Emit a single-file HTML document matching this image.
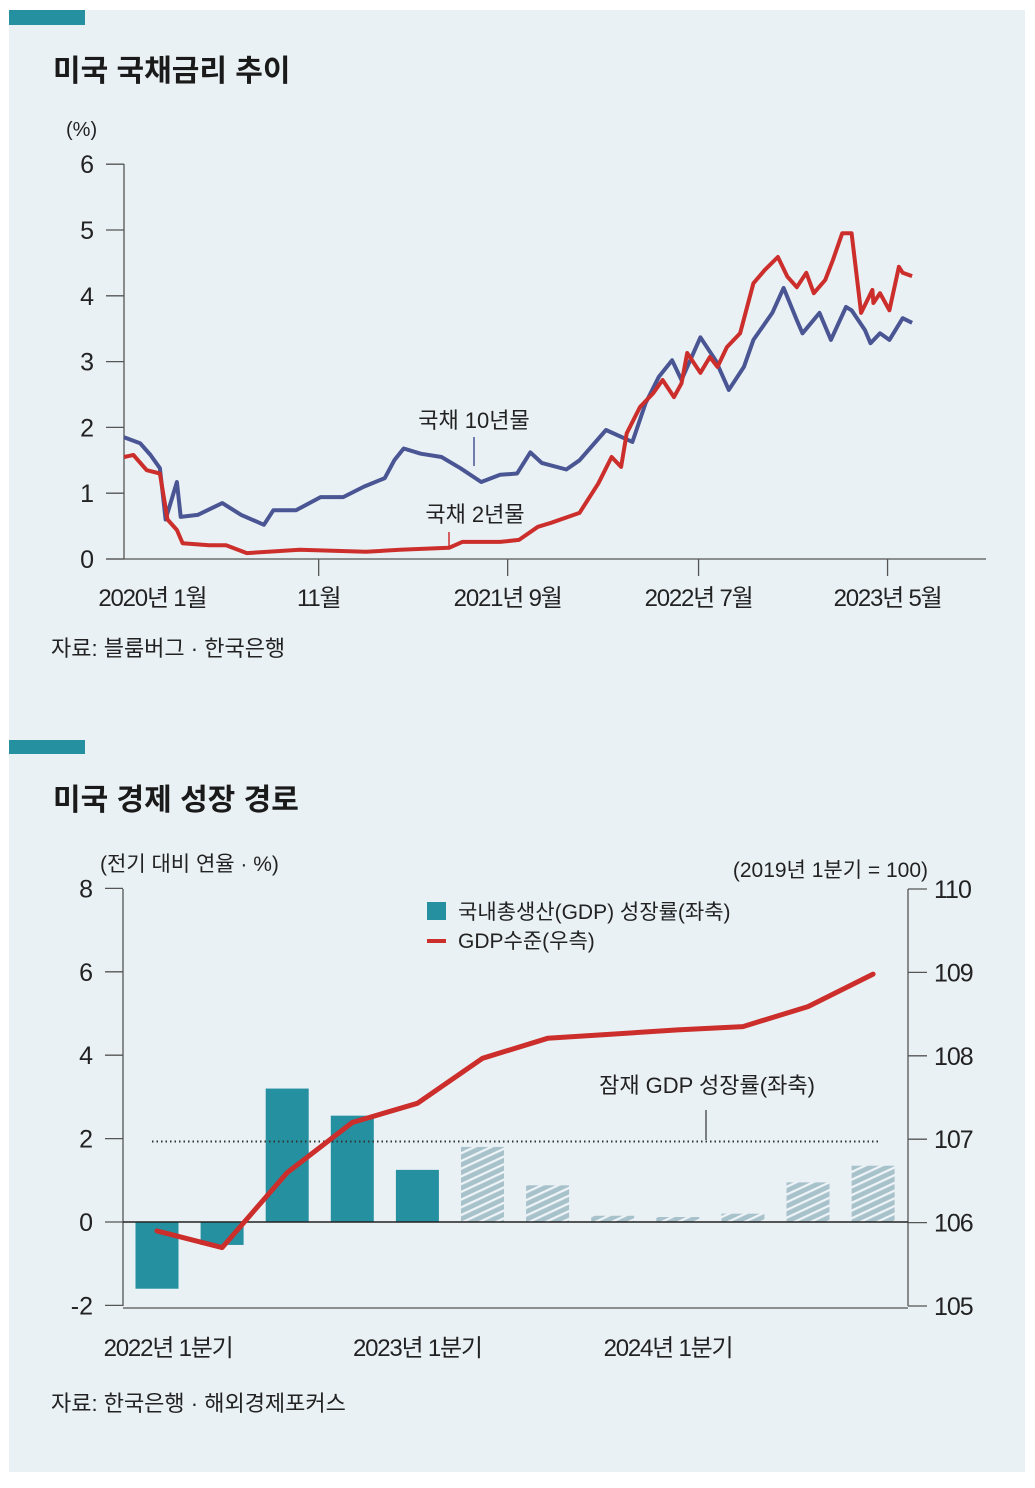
<!DOCTYPE html>
<html><head><meta charset="utf-8">
<style>
html,body{margin:0;padding:0;background:#fff;}
body{width:1035px;height:1483px;position:relative;overflow:hidden;font-family:"Liberation Sans","Noto Sans CJK KR",sans-serif;}
svg text{font-family:"Liberation Sans","Noto Sans CJK KR",sans-serif;}
</style></head>
<body>
<svg id="svg" width="1035" height="1483" viewBox="0 0 1035 1483" xmlns="http://www.w3.org/2000/svg">
<defs>
<pattern id="hatch" patternUnits="userSpaceOnUse" width="7" height="7" patternTransform="rotate(-25)">
<rect width="7" height="7" fill="#a8c2cb"/><rect width="7" height="2.2" fill="#eef4f7"/>
</pattern>
</defs>
<rect x="9" y="10" width="1016" height="1462" fill="#eaf1f5"/>
<rect x="9" y="10" width="76" height="15" fill="#2590a0"/>
<text x="53" y="81" font-size="30" font-weight="bold" fill="#1a1a1a">미국 국채금리 추이</text>
<text x="66" y="136" font-size="20" fill="#222">(%)</text>
<g id="topChart"></g>
<text x="51" y="656" font-size="22" fill="#222">자료: 블룸버그 · 한국은행</text>

<rect x="9" y="740" width="76" height="14" fill="#2590a0"/>
<text x="53" y="810" font-size="30" font-weight="bold" fill="#1a1a1a">미국 경제 성장 경로</text>
<text x="100" y="871" font-size="21" fill="#222">(전기 대비 연율 · %)</text>
<text x="928" y="877" font-size="21" fill="#222" text-anchor="end">(2019년 1분기 = 100)</text>
<g id="botChart"></g>
<rect x="427" y="902" width="19" height="18" fill="#2590a0"/>
<text x="458" y="919" font-size="21" fill="#222">국내총생산(GDP) 성장률(좌축)</text>
<line x1="427" y1="941" x2="446" y2="941" stroke="#cc2e2b" stroke-width="4"/>
<text x="458" y="948" font-size="21" fill="#222">GDP수준(우측)</text>
<text x="707" y="1093" font-size="22" fill="#222" text-anchor="middle">잠재 GDP 성장률(좌축)</text>
<line x1="706" y1="1110" x2="706" y2="1140" stroke="#333" stroke-width="1.2"/>
<text x="51" y="1411" font-size="22" fill="#222">자료: 한국은행 · 해외경제포커스</text>
</svg>
<script>
// ===== Top chart data (months since Jan 2020) =====
const tenYMonths = [0,0.85,1.4,1.9,2.2,2.8,3.0,3.9,5.2,6.2,7.4,7.9,9.1,10.4,11.6,12.7,13.8,14.3,14.8,15.7,16.8,17.8,18.9,19.9,20.8,21.5,22.1,23.4,24.1,25.5,26.9,27.6,28.3,29.0,29.5,30.5,31.3,32.0,32.8,33.3,34.3,34.9,35.6,35.9,36.8,37.4,38.2,38.5,39.2,39.5,40.0,40.5,41.2,41.7];
const tenYValues = [1.85,1.76,1.58,1.38,0.6,1.17,0.64,0.67,0.85,0.67,0.52,0.74,0.74,0.94,0.94,1.1,1.23,1.5,1.68,1.6,1.55,1.38,1.17,1.28,1.3,1.62,1.46,1.36,1.5,1.96,1.78,2.37,2.77,3.02,2.72,3.37,3.02,2.57,2.92,3.33,3.74,4.12,3.63,3.43,3.74,3.33,3.83,3.78,3.48,3.28,3.43,3.33,3.66,3.59];
const twoYMonths = [0,0.5,1.2,1.9,2.3,2.8,3.1,4.5,5.4,6.5,9.3,12.8,14.6,17.2,17.9,19.9,20.9,21.9,22.6,24.1,25.1,25.8,26.3,26.6,27.3,28.0,28.5,29.1,29.5,29.8,30.5,31.0,31.4,31.9,32.6,33.3,33.9,34.6,35.1,35.6,36.1,36.5,37.1,37.5,38.0,38.5,39.0,39.6,39.65,40.0,40.5,41.0,41.2,41.7];
const twoYValues = [1.55,1.58,1.35,1.3,0.6,0.44,0.24,0.21,0.21,0.09,0.14,0.11,0.14,0.17,0.26,0.26,0.29,0.49,0.55,0.7,1.15,1.55,1.4,1.91,2.31,2.52,2.72,2.46,2.67,3.13,2.83,3.07,2.92,3.22,3.43,4.19,4.39,4.59,4.29,4.13,4.35,4.04,4.24,4.54,4.95,4.95,3.74,4.09,3.89,4.04,3.78,4.44,4.35,4.3];
const topYTicks = [0,1,2,3,4,5,6];
const topXTickMonths = [10.3,20.3,30.4,40.4];
const topXLabels = ["2020년 1월","11월","2021년 9월","2022년 7월","2023년 5월"];
const topXLabelMonths = [1.5,10.3,20.3,30.4,40.4];

// ===== Bottom chart data =====
const quarters = ["22Q1","22Q2","22Q3","22Q4","23Q1","23Q2","23Q3","23Q4","24Q1","24Q2","24Q3","24Q4"];
const gdpGrowth = [-1.6,-0.55,3.2,2.55,1.25,1.8,0.88,0.15,0.12,0.2,0.95,1.35];
const isForecast = [false,false,false,false,false,true,true,true,true,true,true,true];
const gdpLevel = [105.9,105.7,106.6,107.2,107.43,107.97,108.21,108.26,108.31,108.35,108.59,108.98];
const potentialGrowth = [1.93];
const leftTicks = [-2,0,2,4,6,8];
const rightTicks = [105,106,107,108,109,110];
const bottomXLabels = ["2022년  1분기","2023년 1분기","2024년 1분기"];
const bottomXLabelQuarters = [0.17,4,7.85];

const NS="http://www.w3.org/2000/svg";
function mk(tag,attrs,parent){const el=document.createElementNS(NS,tag);for(const k in attrs)el.setAttribute(k,attrs[k]);parent.appendChild(el);return el;}

// --- top axes
const topG=document.getElementById('topChart');
const tx=m=>124+m*18.9;
const ty=v=>559-v*65.8;
let e;
e=mk('line',{x1:124,y1:164,x2:124,y2:559,stroke:'#555','stroke-width':1.3},topG);


e=mk('line',{x1:106,y1:559,x2:986,y2:559,stroke:'#555','stroke-width':1.3},topG);


topYTicks.forEach(v=>{
  e=mk('line',{x1:106,y1:ty(v),x2:124,y2:ty(v),stroke:'#555','stroke-width':1.3},topG);
  
  
  e=mk('text',{x:94,y:ty(v)+9,'font-size':25,'text-anchor':'end',fill:'#222'},topG);e.textContent=v;
  
  
});
topXTickMonths.forEach(m=>{
  e=mk('line',{x1:tx(m),y1:559,x2:tx(m),y2:576,stroke:'#555','stroke-width':1.3},topG);
  
  
});
topXLabels.forEach((l,i)=>{
  e=mk('text',{x:tx(topXLabelMonths[i]),y:606,'font-size':24,'text-anchor':'middle',fill:'#222','letter-spacing':'-1.2'},topG);e.textContent=l;
  
  
});
function path(ms,vs){return ms.map((m,i)=>(i?'L':'M')+tx(m).toFixed(1)+','+ty(vs[i]).toFixed(1)).join(' ');}
e=mk('path',{d:path(tenYMonths,tenYValues),fill:'none',stroke:'#4a5593','stroke-width':4,'stroke-linejoin':'round'},topG);


e=mk('path',{d:path(twoYMonths,twoYValues),fill:'none',stroke:'#cc2e2b','stroke-width':4,'stroke-linejoin':'round'},topG);


e=mk('text',{x:474,y:428,'font-size':22,'text-anchor':'middle',fill:'#222'},topG);e.textContent='국채 10년물';


e=mk('line',{x1:474,y1:437,x2:474,y2:466,stroke:'#4a5593','stroke-width':1.5},topG);


e=mk('text',{x:475,y:522,'font-size':22,'text-anchor':'middle',fill:'#222'},topG);e.textContent='국채 2년물';


e=mk('line',{x1:449,y1:532,x2:449,y2:548,stroke:'#cc2e2b','stroke-width':1.5},topG);



// --- bottom
const botG=document.getElementById('botChart');
const bx=i=>157+i*65.1;
const ly=v=>1222-v*41.7;
const ry=v=>1306-(v-105)*83.4;
e=mk('line',{x1:123,y1:889,x2:123,y2:1306,stroke:'#555','stroke-width':1.3},botG);


e=mk('line',{x1:908,y1:889,x2:908,y2:1306,stroke:'#555','stroke-width':1.3},botG);


e=mk('line',{x1:123,y1:1308,x2:908,y2:1308,stroke:'#555','stroke-width':1.3},botG);


leftTicks.forEach(v=>{
  e=mk('line',{x1:105,y1:ly(v),x2:123,y2:ly(v),stroke:'#555','stroke-width':1.3},botG);
  
  
  e=mk('text',{x:93,y:ly(v)+9,'font-size':25,'text-anchor':'end',fill:'#222'},botG);e.textContent=v;
  
  
});
rightTicks.forEach(v=>{
  e=mk('line',{x1:908,y1:ry(v),x2:927,y2:ry(v),stroke:'#555','stroke-width':1.3},botG);
  
  
  e=mk('text',{x:934,y:ry(v)+9,'font-size':25,fill:'#222','letter-spacing':'-1'},botG);e.textContent=v;
  
  
});
gdpGrowth.forEach((v,i)=>{
  const y0=ly(0),y1=ly(v);
  e=mk('rect',{x:bx(i)-21.5,y:Math.min(y0,y1),width:43,height:Math.abs(y1-y0),fill:isForecast[i]?'url(#hatch)':'#2590a0'},botG);
  
  
});
e=mk('line',{x1:123,y1:ly(0),x2:908,y2:ly(0),stroke:'#222','stroke-width':1.5},botG);


e=mk('line',{x1:152,y1:ly(potentialGrowth[0]),x2:878,y2:ly(potentialGrowth[0]),stroke:'#333','stroke-width':2,'stroke-dasharray':'1.5 3'},botG);


e=mk('path',{d:gdpLevel.map((v,i)=>(i?'L':'M')+bx(i).toFixed(1)+','+ry(v).toFixed(1)).join(' '),fill:'none',stroke:'#cc2e2b','stroke-width':5,'stroke-linejoin':'round','stroke-linecap':'round'},botG);


bottomXLabels.forEach((l,i)=>{
  e=mk('text',{x:bx(bottomXLabelQuarters[i]),y:1356,'font-size':24,'text-anchor':'middle',fill:'#222','letter-spacing':'-1.2'},botG);e.textContent=l;
  
  
});
</script>
</body></html>
